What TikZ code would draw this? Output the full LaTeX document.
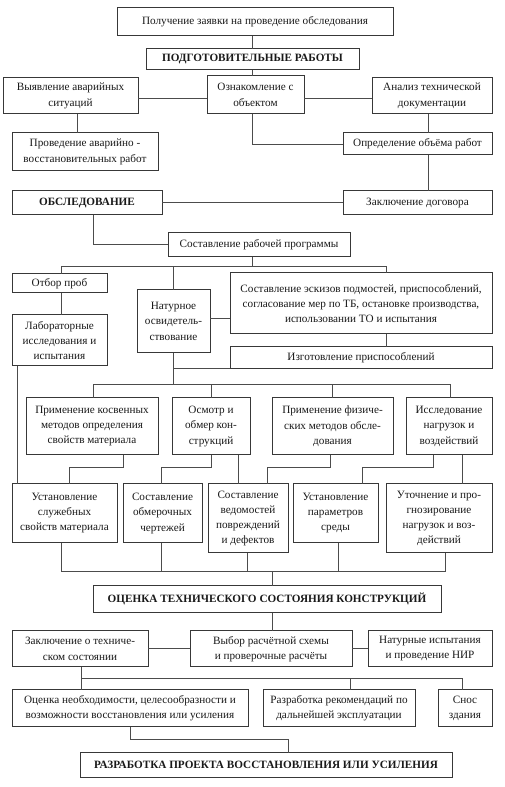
\documentclass[tikz,border=0pt]{standalone}
\usepackage{fontspec}
\setmainfont{Liberation Serif}
\begin{document}
\begin{tikzpicture}[x=1pt,y=-1pt,
  box/.style={draw=black!78, line width=0.85pt, fill=white, align=center, inner sep=0pt, outer sep=0pt,
     font=\fontsize{11.2}{15.2}\selectfont, text=black!90},
  hbox/.style={box, font=\fontsize{11.2}{15.2}\selectfont\bfseries},
  conn/.style={draw=black!70, line width=0.85pt}]
\useasboundingbox[fill=white] (0,0) rectangle (504,787);
\newcommand{\mkbox}[7][box]{\node[#1, minimum width={(#5-#3)*1pt}, minimum height={(#6-#4)*1pt}] (#2) at ({(#3+#5)/2},{(#4+#6)/2+0.8}) {#7};}
\mkbox{zay}{117}{7}{393}{35}{Получение заявки на проведение обследования}
\mkbox[hbox]{podg}{146}{48}{359}{69}{ПОДГОТОВИТЕЛЬНЫЕ РАБОТЫ}
\mkbox{vyav}{3}{77}{138}{113}{Выявление аварийных\\ситуаций}
\mkbox{ozn}{207}{75}{304}{113}{Ознакомление с\\объектом}
\mkbox{anal}{372}{77}{492}{113}{Анализ технической\\документации}
\mkbox{prov}{12}{132}{158}{170}{Проведение аварийно -\\восстановительных работ}
\mkbox{opr}{343}{132}{492}{154}{Определение объёма работ}
\mkbox[hbox]{obsl}{12}{190}{162}{214}{ОБСЛЕДОВАНИЕ}
\mkbox{zakl}{343}{190}{492}{214}{Заключение договора}
\mkbox{sost}{168}{232}{350}{256}{Составление рабочей программы}
\mkbox{otbor}{12}{273}{107}{292}{Отбор проб}
\mkbox{lab}{12}{314}{107}{365}{Лабораторные\\исследования и\\испытания}
\mkbox{nat}{137}{289}{210}{352}{Натурное\\освидетель-\\ствование}
\mkbox{eskiz}{230}{272}{492}{333}{Составление эскизов подмостей, приспособлений,\\согласование мер по ТБ, остановке производства,\\использовании ТО и испытания}
\mkbox{izg}{230}{346}{492}{368}{Изготовление приспособлений}
\mkbox{kosv}{26}{397}{158}{454}{Применение косвенных\\методов определения\\свойств материала}
\mkbox{osm}{172}{397}{250}{454}{Осмотр и\\обмер кон-\\струкций}
\mkbox{fiz}{272}{397}{393}{454}{Применение физиче-\\ских методов обсле-\\дования}
\mkbox{issl}{406}{397}{492}{454}{Исследование\\нагрузок и\\воздействий}
\mkbox{ust}{12}{483}{117}{542}{Установление\\служебных\\свойств материала}
\mkbox{somer}{123}{483}{202}{542}{Составление\\обмерочных\\чертежей}
\mkbox{sved}{208}{483}{288}{552}{Составление\\ведомостей\\повреждений\\и дефектов}
\mkbox{upar}{293}{483}{378}{542}{Установление\\параметров\\среды}
\mkbox{utoch}{386}{483}{492}{552}{Уточнение и про-\\гнозирование\\нагрузок и воз-\\действий}
\mkbox[hbox]{ocen}{93}{585}{441}{612}{ОЦЕНКА ТЕХНИЧЕСКОГО СОСТОЯНИЯ КОНСТРУКЦИЙ}
\mkbox{zto}{12}{630}{148}{666}{Заключение о техниче-\\ском состоянии}
\mkbox{vybor}{190}{630}{352}{666}{Выбор расчётной схемы\\и проверочные расчёты}
\mkbox{natisp}{368}{630}{492}{666}{Натурные испытания\\и проведение НИР}
\mkbox{ocneo}{12}{689}{248}{726}{Оценка необходимости, целесообразности и\\возможности восстановления или усиления}
\mkbox{razrek}{263}{689}{415}{726}{Разработка рекомендаций по\\дальнейшей эксплуатации}
\mkbox{snos}{438}{689}{492}{726}{Снос\\здания}
\mkbox[hbox]{proekt}{80}{752}{452}{777}{РАЗРАБОТКА ПРОЕКТА ВОССТАНОВЛЕНИЯ ИЛИ УСИЛЕНИЯ}

\begin{scope}[conn]
\draw (252,0 |- zay.south) -- (252,0 |- podg.north);
\draw (252,0 |- podg.south) -- (252,0 |- ozn.north);
\draw (vyav.east |- 0,98) -- (ozn.west |- 0,98);
\draw (ozn.east |- 0,98) -- (anal.west |- 0,98);
\draw (77,0 |- vyav.south) -- (77,0 |- prov.north);
\draw (252,0 |- ozn.south) |- (opr.west |- 0,144);
\draw (428,0 |- anal.south) -- (428,0 |- opr.north);
\draw (428,0 |- opr.south) -- (428,0 |- zakl.north);
\draw (obsl.east) -- (zakl.west);
\draw (93,0 |- obsl.south) |- (sost.west);
\draw (252,0 |- sost.south) -- (252,266);
\draw (61,0 |- otbor.north) |- (386,266) -- (386,0 |- eskiz.north);
\draw (173,266) -- (173,0 |- nat.north);
\draw (61,0 |- otbor.south) -- (61,0 |- lab.north);
\draw (nat.east |- 0,318) -- (eskiz.west |- 0,318);
\draw (386,0 |- eskiz.south) -- (386,0 |- izg.north);
\draw (173,0 |- nat.south) -- (173,384);
\draw (173,0 |- izg.south) -- (izg.south west);
\draw (93,0 |- kosv.north) |- (450,384) -- (450,0 |- issl.north);
\draw (211,384) -- (211,0 |- osm.north);
\draw (332,384) -- (332,0 |- fiz.north);
\draw (17,0 |- lab.south) -- (17,0 |- ust.north);
\draw (123,0 |- kosv.south) -- (123,467) -| (69,0 |- ust.north);
\draw (211,0 |- osm.south) -- (211,467) -| (161,0 |- somer.north);
\draw (238,0 |- osm.south) -- (238,0 |- sved.north);
\draw (330,0 |- fiz.south) -- (330,467) -| (267,0 |- sved.north);
\draw (433,0 |- issl.south) -- (433,467) -| (362,0 |- upar.north);
\draw (462,0 |- issl.south) -- (462,0 |- utoch.north);
\draw (61,0 |- ust.south) |- (445,571) -- (445,0 |- utoch.south);
\draw (161,0 |- somer.south) -- (161,571);
\draw (247,0 |- sved.south) -- (247,571);
\draw (338,0 |- upar.south) -- (338,571);
\draw (272,571) -- (272,0 |- ocen.north);
\draw (272,0 |- ocen.south) -- (272,0 |- vybor.north);
\draw (zto.east |- 0,648) -- (vybor.west |- 0,648);
\draw (vybor.east |- 0,648) -- (natisp.west |- 0,648);
\draw (81,0 |- zto.south) -- (81,0 |- ocneo.north);
\draw (81,678) -| (462,0 |- snos.north);
\draw (350,678) -- (350,0 |- razrek.north);
\draw (130,0 |- ocneo.south) -- (130,739) -| (288,0 |- proekt.north);
\end{scope}
\end{tikzpicture}
\end{document}
